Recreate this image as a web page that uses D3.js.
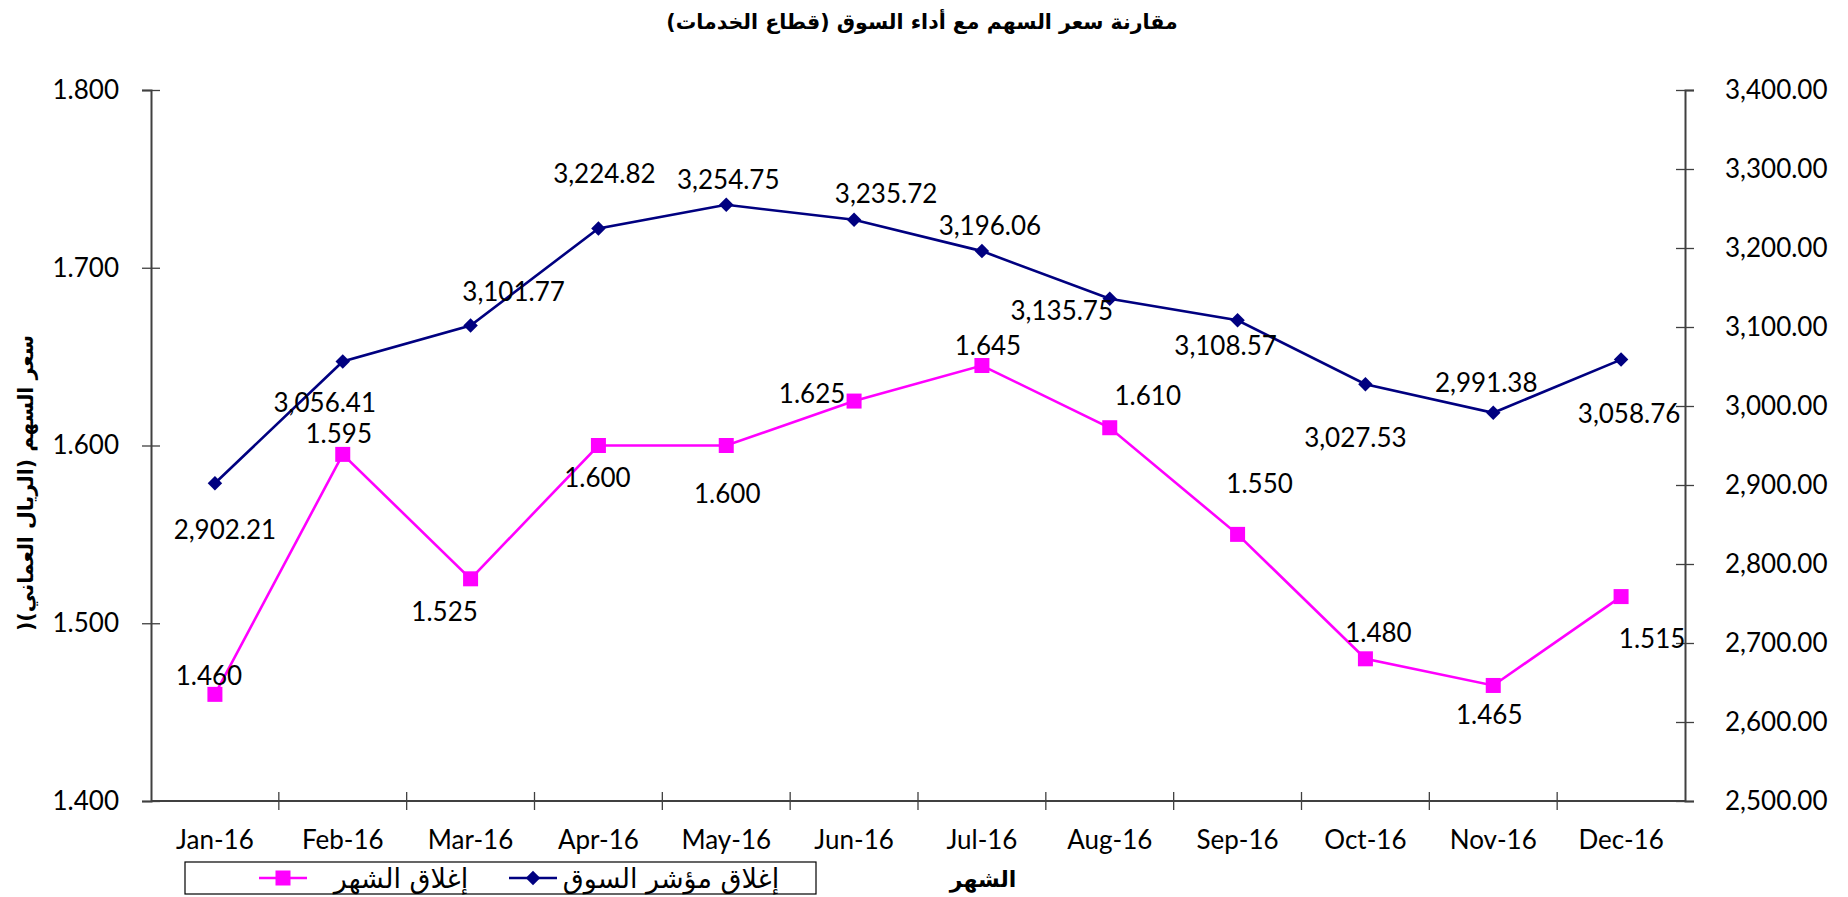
<!DOCTYPE html>
<html>
<head>
<meta charset="utf-8">
<script src="https://cdn.jsdelivr.net/npm/d3@7"></script>
<style>
  body { margin: 0; background: #fff; }
  .ar { font-family: "DejaVu Sans", sans-serif; direction: rtl; }
  .num { font-family: Lato, sans-serif; }
</style>
</head>
<body>
<div class="chart"></div>
<script>
var months = ["Jan-16", "Feb-16", "Mar-16", "Apr-16", "May-16", "Jun-16",
              "Jul-16", "Aug-16", "Sep-16", "Oct-16", "Nov-16", "Dec-16"];
var priceClose = [1.460, 1.595, 1.525, 1.600, 1.600, 1.625, 1.645, 1.610, 1.550, 1.480, 1.465, 1.515];
var indexClose = [2902.21, 3056.41, 3101.77, 3224.82, 3254.75, 3235.72, 3196.06, 3135.75, 3108.57, 3027.53, 2991.38, 3058.76];
var leftTicks = [1.4, 1.5, 1.6, 1.7, 1.8];
var rightTicks = [2500, 2600, 2700, 2800, 2900, 3000, 3100, 3200, 3300, 3400];

// label nudges (px), placed by hand like the original
var indexLabelOffset = [[10, 46], [-18, 41], [43, -35], [6, -55], [2, -26], [32, -27],
                        [8, -26], [-48, 11], [-12, 25], [-10, 53], [-7, -31], [8, 53]];
var priceLabelOffset = [[-6, -19], [-4, -21], [-26, 32], [-1, 31], [1, 47], [-42, -8],
                        [6, -21], [38, -33], [22, -51], [13, -27], [-4, 29], [31, 41]];

var svgWidth = 1848;
var svgHeight = 897;
var margin = { top: 90, right: 163, bottom: 96, left: 151 };
var width = svgWidth - margin.left - margin.right;
var height = svgHeight - margin.top - margin.bottom;

var axisColor = "#404040";
var navy = "#000080";
var magenta = "#FF00FF";

var svg = d3.select(".chart")
  .append("svg")
  .attr("width", svgWidth)
  .attr("height", svgHeight);

var chartGroup = svg.append("g")
  .attr("transform", `translate(${margin.left}, ${margin.top})`);

var xBand = d3.scaleBand().domain(months).range([0, width]).padding(0);
var yLeft = d3.scaleLinear().domain([1.4, 1.8]).range([height, 0]);
var yRight = d3.scaleLinear().domain([2500, 3400]).range([height, 0]);
var xc = d => xBand(d) + xBand.bandwidth() / 2;

// axes
var leftAxis = d3.axisLeft(yLeft).tickValues(leftTicks).tickFormat(d3.format(".3f")).tickSize(9).tickPadding(23);
var rightAxis = d3.axisRight(yRight).tickValues(rightTicks).tickFormat(d3.format(",.2f")).tickSize(9).tickPadding(31);

function styleAxis(g) {
  g.select(".domain").attr("stroke", axisColor).attr("stroke-width", 2);
  g.selectAll(".tick line").attr("stroke", axisColor).attr("stroke-width", 1.3);
  g.selectAll(".tick text")
    .attr("class", "num")
    .attr("font-size", "26px")
    .attr("fill", "#000");
}

var gl = chartGroup.append("g").call(leftAxis);
styleAxis(gl);
gl.selectAll(".tick line").attr("x1", 9);

var gr = chartGroup.append("g").attr("transform", `translate(${width}, 0)`).call(rightAxis);
styleAxis(gr);
gr.selectAll(".tick line").attr("x1", -9);

// bottom axis: labels at band centers, ticks at band edges
var gx = chartGroup.append("g").attr("transform", `translate(0, ${height})`);
gx.append("line")
  .attr("x1", 0).attr("x2", width)
  .attr("stroke", axisColor).attr("stroke-width", 2);
gx.selectAll(".edge")
  .data(months.slice(1))
  .enter()
  .append("line")
  .attr("x1", d => xBand(d)).attr("x2", d => xBand(d))
  .attr("y1", -9).attr("y2", 9)
  .attr("stroke", axisColor).attr("stroke-width", 1.3);
gx.selectAll(".mlabel")
  .data(months)
  .enter()
  .append("text")
  .attr("class", "num")
  .attr("x", d => xc(d))
  .attr("y", 38)
  .attr("text-anchor", "middle")
  .attr("dominant-baseline", "central")
  .attr("font-size", "26px")
  .text(d => d);

// lines
var indexLine = d3.line().x((d, i) => xc(months[i])).y(d => yRight(d));
var priceLine = d3.line().x((d, i) => xc(months[i])).y(d => yLeft(d));

chartGroup.append("path")
  .datum(indexClose)
  .attr("d", indexLine)
  .attr("fill", "none")
  .attr("stroke", navy)
  .attr("stroke-width", 2.6);

chartGroup.append("path")
  .datum(priceClose)
  .attr("d", priceLine)
  .attr("fill", "none")
  .attr("stroke", magenta)
  .attr("stroke-width", 2.6);

// markers
chartGroup.selectAll(".diamond")
  .data(indexClose)
  .enter()
  .append("path")
  .attr("d", d3.symbol(d3.symbolSquare, 105))
  .attr("transform", (d, i) => `translate(${xc(months[i])}, ${yRight(d)}) rotate(45)`)
  .attr("fill", navy);

chartGroup.selectAll(".square")
  .data(priceClose)
  .enter()
  .append("rect")
  .attr("x", (d, i) => xc(months[i]) - 7.5)
  .attr("y", d => yLeft(d) - 7.5)
  .attr("width", 15)
  .attr("height", 15)
  .attr("fill", magenta);

// data labels
chartGroup.selectAll(".ilabel")
  .data(indexClose)
  .enter()
  .append("text")
  .attr("class", "num")
  .attr("x", (d, i) => xc(months[i]) + indexLabelOffset[i][0])
  .attr("y", (d, i) => yRight(d) + indexLabelOffset[i][1])
  .attr("text-anchor", "middle")
  .attr("dominant-baseline", "central")
  .attr("font-size", "26px")
  .text(d => d3.format(",.2f")(d));

chartGroup.selectAll(".plabel")
  .data(priceClose)
  .enter()
  .append("text")
  .attr("class", "num")
  .attr("x", (d, i) => xc(months[i]) + priceLabelOffset[i][0])
  .attr("y", (d, i) => yLeft(d) + priceLabelOffset[i][1])
  .attr("text-anchor", "middle")
  .attr("dominant-baseline", "central")
  .attr("font-size", "26px")
  .text(d => d3.format(".3f")(d));

// titles
svg.append("text")
  .attr("class", "ar")
  .attr("x", 922)
  .attr("y", 22)
  .attr("text-anchor", "middle")
  .attr("dominant-baseline", "central")
  .attr("font-size", "20.5px")
  .attr("font-weight", "bold")
  .text("مقارنة سعر السهم مع أداء السوق (قطاع الخدمات)");

svg.append("text")
  .attr("class", "ar")
  .attr("transform", "translate(26, 483) rotate(-90)")
  .attr("text-anchor", "middle")
  .attr("dominant-baseline", "central")
  .attr("font-size", "20.5px")
  .attr("font-weight", "bold")
  .text("سعر السهم (الريال العماني)(");

svg.append("text")
  .attr("class", "ar")
  .attr("x", 983)
  .attr("y", 879)
  .attr("text-anchor", "middle")
  .attr("dominant-baseline", "central")
  .attr("font-size", "22px")
  .attr("font-weight", "bold")
  .text("الشهر");

// legend
var legend = svg.append("g");
legend.append("rect")
  .attr("x", 185).attr("y", 862)
  .attr("width", 631).attr("height", 32)
  .attr("fill", "#fff")
  .attr("stroke", "#000")
  .attr("stroke-width", 1.2);

var legendItems = [
  { name: "إغلاق مؤشر السوق", color: navy, shape: "diamond", lx: 509, tx: 671 },
  { name: "إغلاق الشهر", color: magenta, shape: "square", lx: 259, tx: 401 }
];

legendItems.forEach(function(item) {
  legend.append("line")
    .attr("x1", item.lx).attr("x2", item.lx + 48)
    .attr("y1", 878).attr("y2", 878)
    .attr("stroke", item.color).attr("stroke-width", 2.6);
  if (item.shape === "diamond") {
    legend.append("path")
      .attr("d", d3.symbol(d3.symbolSquare, 105))
      .attr("transform", `translate(${item.lx + 24}, 878) rotate(45)`)
      .attr("fill", item.color);
  } else {
    legend.append("rect")
      .attr("x", item.lx + 24 - 7.5).attr("y", 878 - 7.5)
      .attr("width", 15).attr("height", 15)
      .attr("fill", item.color);
  }
  legend.append("text")
    .attr("class", "ar")
    .attr("x", item.tx)
    .attr("y", 878)
    .attr("text-anchor", "middle")
    .attr("dominant-baseline", "central")
    .attr("font-size", "27px")
    .text(item.name);
});
</script>
</body>
</html>
